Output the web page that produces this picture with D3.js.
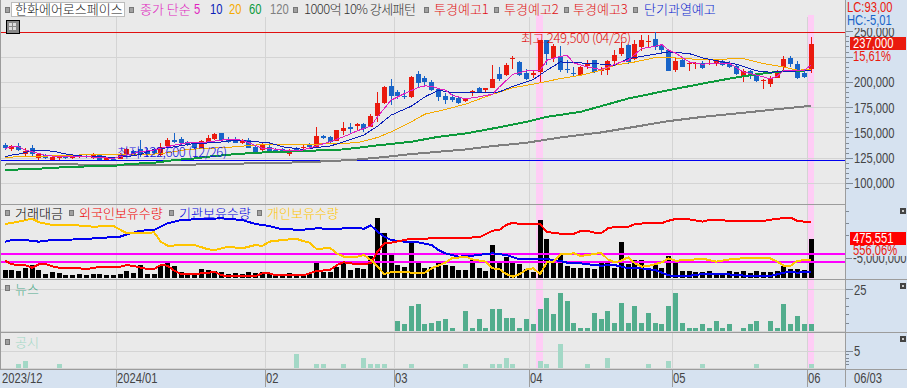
<!DOCTYPE html>
<html>
<head>
<meta charset="utf-8">
<script src="https://cdn.jsdelivr.net/npm/d3@7"></script>
<style>
html,body{margin:0;padding:0;background:#fff;overflow:hidden}
svg{display:block}
text{font-family:"Noto Sans CJK KR","Noto Sans",sans-serif;font-size:13px;font-weight:300}
text.num{font-family:"Liberation Sans",sans-serif;font-size:14px;font-weight:400}
</style>
</head>
<body>
<div id="chart"></div>
<script>
// candles, index 0 = first session on screen, 119 = 06/03
var opens = [137800,133200,136500,128600,134200,124700,127300,123000,125000,126300,125300,125300,126600,124700,127300,123000,124000,124000,127900,131900,
133200,131600,132600,127900,136500,142700,143400,140800,138800,134800,140800,143700,149000,142700,143700,139100,142400,135800,132600,135500,
132900,133200,128600,134200,134200,138100,135500,146700,145400,141800,151300,154900,156600,158200,155200,166100,178900,195700,189800,186200,
184900,207600,203900,199700,193100,186500,185200,183900,180900,189100,193700,192400,194400,207600,206600,223000,219700,208900,206900,210200,
241100,224000,225300,212500,209200,206600,216100,221400,210900,211800,220400,228000,236800,223000,234500,239800,242800,235500,231200,211800,
222000,217800,218100,219100,217400,218100,221000,219100,216100,205900,210900,207600,201300,198300,203900,214500,223400,217400,208900,212800];
var highs = [139800,137200,139100,134500,137200,129300,128600,127600,126600,127600,127300,127600,127600,129300,127900,125300,125300,129900,134200,132600,
142400,134200,134200,139100,144700,149300,145700,141800,139800,142400,147400,149700,149700,145000,145700,143700,144700,137800,139100,139100,
134900,134200,133200,135800,138500,139100,155600,147700,146400,152900,160500,158900,159500,159500,168100,189500,195700,203300,192400,191800,
205600,210500,205600,201600,194400,188500,187800,185800,184500,192400,195100,194400,217100,214800,218700,225300,220700,213200,210900,241800,
241800,237800,235200,221400,214800,215800,222000,222000,214800,221400,231200,239500,237800,241100,246100,246100,249500,237800,231900,224000,
224000,219100,219700,220700,222000,223000,221400,220700,217400,212500,212200,209200,203300,206200,212200,225300,225300,220400,210900,244400];
var lows = [132600,131200,131900,126000,126000,123000,123300,122800,122800,123700,123300,124700,124700,123300,122800,122800,122600,123300,126000,126600,
126000,126000,127900,126600,135200,139100,137800,136500,132600,134200,139100,142400,141100,139100,139100,138500,134200,128600,130600,129900,
129900,129300,126600,130600,131900,134500,134200,143700,139800,141100,147400,149000,152900,150600,154900,160500,178600,177000,183500,182900,
184500,195100,196700,191100,181200,178000,180200,178600,180200,185800,188500,188500,194400,200700,206200,213200,205600,202300,204300,199300,
217100,219700,210200,209200,204900,206200,212800,208900,206600,206600,217400,225300,218100,222000,230600,234500,231200,228000,210500,209900,
214500,210500,212500,212800,216400,215500,215800,213500,206600,199700,203300,200000,192800,194700,203600,210500,215100,202600,203900,208900];
var closes = [134500,136500,132900,131200,128300,128600,124700,125300,125600,125000,126000,127300,125600,127600,123000,124700,123300,128600,133200,128600,
128600,127300,129300,135800,142400,140400,139800,137500,134200,141100,144400,148300,142400,140800,139800,142400,134800,129900,138100,131600,
130600,129900,132600,131600,135800,135500,146400,144400,140800,152300,154300,153600,158200,153300,166100,178900,195100,186500,185800,185500,
204600,199300,199700,191800,184900,181900,181600,179300,183900,190800,189500,193700,202600,202600,216400,224000,206600,203300,209200,241100,
227300,235900,211500,211500,208500,214500,218100,209900,212800,220400,226300,233900,219400,237200,241800,240800,234500,231200,210900,220400,
214800,218700,218700,213500,218400,221400,216400,214800,207600,210500,206900,201000,202300,204300,211200,223000,217800,203600,204900,237000];

// moving averages, read at these candle positions
var ma5At = [0,1,2,3,4,5,6,8,12,14,16,18,20,22,25,27,29,32,33,35,36,38,40,42,44,46,48,50,52,54,55,56,57,59,61,62,63,64,65,66,68,70,72,73,75,77,79,80,82,83,84,86,88,91,92,94,96,97,98,99,101,103,105,107,109,111,113,114,115,117,118,119];
var ma5 = [134200,135800,135800,132600,130900,129300,127300,126000,126000,125300,124300,127600,130900,132600,137500,139800,139800,142400,143400,142400,139800,134200,133500,131900,132600,136800,140800,145700,151600,156200,165400,173700,181900,188500,194400,196000,195700,193400,191800,186800,183200,185200,187800,195100,207600,210900,211500,221400,225300,226000,218700,214800,212200,219700,221400,232900,235200,236800,231200,228600,219700,217400,218700,218100,209900,206600,203000,205600,211500,211500,211500,216400];
var ma10At = [0,1,2,4,7,9,11,14,16,18,20,22,25,28,31,34,37,39,41,44,46,48,50,53,55,57,60,62,64,66,69,72,73,75,78,80,82,85,87,90,92,95,98,101,103,106,108,111,113,115,118,119];
var ma10 = [126000,127600,128600,131900,131600,128600,126800,126000,125300,126000,128300,133200,135800,139100,139800,142400,140800,139800,135800,133200,135200,136500,140800,147400,156200,167100,176000,185200,191800,189500,189500,189500,190100,195700,202300,211500,219700,218700,218100,216400,223000,226300,229600,228000,223700,219700,217400,210900,209500,210500,210900,210900];
var ma20At = [0,2,4,6,9,14,18,22,24,27,30,34,38,44,46,49,52,55,57,60,62,65,68,72,75,79,82,85,88,90,93,96,98,103,109,112,115,117,119];
var ma20 = [125300,126000,126000,126600,127300,128300,128600,128600,129900,133200,134200,135800,138100,138100,138500,139100,139800,145000,150600,160500,168100,172700,178000,187800,194100,199000,203300,206600,211500,216400,219700,224000,224000,222000,223000,218100,214800,211500,212500];
var ma60At = [0,6,10,16,18,22,25,28,30,34,38,44,50,55,60,64,68,72,77,80,85,88,92,98,103,107,111,115,119];
var ma60 = [112800,114500,116100,116800,118700,120000,122700,124300,126000,128600,130200,131600,133200,137200,140800,145700,149000,153900,160500,165400,170400,176000,183500,191800,198300,203300,207600,210500,211500];
var ma120At = [0,1,10,11,28,29,35,36,44,51,55,60,64,68,72,77,82,88,93,98,103,109,115,119];
var ma120 = [118100,119100,119100,118100,118100,119100,119100,119700,120400,122700,125000,128600,130900,133200,136500,139800,145000,150000,155600,161200,165400,169400,173700,176300];
var maNames = ["5","10","20","60","120"];
var maColors = ["#e01fc0","#0a1fb8","#f5aa00","#0d9a3c","#7f7f7f"];

// trading value per session
var tradeValue = [97600,97600,85400,122000,158500,97600,48800,73200,61000,36600,36600,48800,36600,48800,48800,36600,36600,48800,85400,61000,
158500,48800,48800,158500,182900,146300,73200,61000,48800,109800,97600,85400,73200,48800,61000,48800,73200,61000,73200,61000,
48800,48800,61000,48800,40700,48800,207300,73200,73200,138200,207300,97600,122000,109800,268300,731700,548800,304900,158500,134100,
439000,207300,122000,134100,182900,158500,146300,97600,97600,219500,122000,85400,402400,195100,256100,182900,170700,109800,73200,707300,
475551,182900,304900,146300,122000,122000,122000,109800,182900,182900,122000,439000,170700,219500,219500,109800,170700,122000,268300,182900,
85400,85400,73200,73200,85400,48800,61000,85400,73200,85400,61000,85400,73200,73200,85400,146300,109800,109800,97600,475551];

// holdings in thousand shares
var foreignAt = [0,1,2,3,4,5,6,7,8,10,12,14,16,17,18,19,20,21,22,23,24,25,26,28,29,31,32,33,37,38,39,40,43,44,45,46,48,49,50,52,54,55,56,57,59,60,62,64,68,70,72,73,74,75,76,78,79,80,82,84,85,86,87,88,89,90,92,93,95,97,98,99,101,103,104,105,107,109,112,113,115,116,117,118,119];
var foreignHold = [-5490,-6260,-6400,-6470,-6960,-6260,-6190,-6680,-6960,-6960,-7240,-6820,-6820,-6750,-6400,-6610,-6960,-7240,-7240,-6400,-6540,-7590,-8290,-8290,-8150,-7870,-8570,-8710,-8710,-8150,-8150,-8570,-8570,-8570,-8150,-7660,-7450,-6400,-5840,-6260,-6050,-3600,-1850,-1710,-1150,-870,-870,-730,-660,-590,810,950,2000,2490,2210,2210,2210,530,180,180,740,810,390,250,1300,1580,1580,2210,2420,2420,2910,3260,3190,2700,3050,3120,2840,2840,2840,3120,3470,3540,2840,2700,2630];
var instAt = [0,1,3,5,7,11,14,17,18,20,22,24,26,29,32,35,37,39,41,44,46,49,51,53,54,55,56,57,59,61,63,64,65,67,69,72,74,76,78,80,82,83,85,87,88,90,92,94,96,98,99,101,102,104,106,108,110,113,115,116,117,119];
var instHold = [-1500,-1150,-1150,-1500,-1150,-1010,-730,-450,40,810,950,2350,3050,3260,3400,3050,2210,1790,1090,1020,1300,1160,1440,1230,1930,600,-450,-1150,-1500,-1640,-2200,-3250,-3950,-4650,-4440,-3950,-4300,-5210,-5210,-5140,-5560,-5910,-6050,-6400,-6540,-6400,-7100,-7100,-7450,-8570,-8780,-8710,-8430,-8290,-8290,-8500,-8710,-8710,-8010,-7800,-8010,-7800];
var retailAt = [0,2,4,5,7,10,13,16,18,20,22,23,24,28,30,31,33,35,37,38,39,41,43,44,45,46,48,49,50,52,53,54,55,56,57,59,60,62,63,65,66,68,69,71,72,73,74,75,76,77,78,79,80,81,82,84,85,87,88,89,90,91,92,93,94,95,97,98,99,101,103,105,107,110,113,114,115,116,117,119];
var retailHold = [2210,2700,3330,2560,2000,2000,1650,1790,250,250,460,-1500,-2340,-2200,-3110,-3250,-2550,-2900,-2200,-2410,-1500,-1150,-870,-1360,-1710,-3040,-2830,-3950,-4650,-4650,-4300,-5350,-6750,-8290,-7940,-7800,-8010,-8010,-7100,-5910,-5000,-4650,-5210,-5700,-7100,-7240,-8290,-8850,-8290,-7310,-7100,-8290,-5840,-5700,-4160,-3950,-4510,-4090,-3810,-5210,-5840,-5490,-4790,-6050,-6750,-6610,-5840,-5000,-5490,-5350,-5070,-5700,-5210,-4860,-5000,-5700,-6540,-6540,-5490,-5350];
var holdLevels = [-3810,-5490];

// news count, disclosure count
var newsCount = [0,0,0,0,0,0,0,0,0,0,0,0,0,0,0,0,0,0,0,0,
0,0,0,0,0,0,0,0,0,0,0,0,0,0,0,0,0,0,0,0,
0,0,0,0,0,0,0,0,0,0,0,0,0,0,0,0,0,0,6,4,
15,16,4,5,6,7,2,0,12,2,7,2,13,13,8,8,2,7,4,13,
20,10,23,18,5,2,2,11,7,12,5,17,5,15,5,11,5,4,15,23,
5,2,2,4,2,6,2,4,0,2,4,6,0,6,2,16,4,9,4,4];
var noticeCount = [0,0,1,2,0,0,0,0,1,0,0,0,0,0,0,0,0,0,0,0,
0,0,0,0,0,0,0,0,0,0,0,0,0,0,0,0,0,0,0,0,
0,0,0,4,0,0,1,1,0,0,1,0,0,3,1,1,1,0,0,0,
1,0,0,0,0,0,0,0,1,0,0,0,1,1,3,1,0,0,0,2,
1,0,7,0,0,0,1,0,0,3,0,0,0,0,0,1,0,0,2,0,
0,0,0,1,0,0,0,0,0,0,0,1,0,0,0,0,0,0,0,1];

var monthAt = [17,39,58,78,99,119];
var monthLabels = ["2024/01","02","03","04","05","06"];
var highlightAt = [79,119];
var priceTicks = [100000,125000,150000,175000,200000,225000,250000];
var priceMinor = d3.range(95000,255000,5000);

var WIDTH = 907, HEIGHT = 389, plotRight = 845;
var BG = "#eaeaea", SIDE = "#d6e2f0", BORDER = "#9c9c9c", GRID = "#d4d4d4";

var svg = d3.select("#chart").append("svg").attr("width",WIDTH).attr("height",HEIGHT);

var x = d3.scaleLinear().domain([0,closes.length-1]).range([4.5,810.5]);
var yPrice = d3.scaleLinear().domain([100000,250000]).range([183,31.3]);
var yTrade = d3.scaleLinear().domain([0,475551]).range([278,239]);
var yHold = d3.scaleLinear().domain([7250,-9130]).range([200,278]);
var yNews = d3.scaleLinear().domain([0,25]).range([331,289.3]);
var yNotice = d3.scaleLinear().domain([0,5]).range([367.7,351]);

function px(v){ return Math.round(v) }

function rect(parent,x0,y0,w,h,color){
	return parent.append("rect").attr("x",x0).attr("y",y0).attr("width",w).attr("height",h)
		.attr("fill",color).attr("shape-rendering","crispEdges");
}
function hline(parent,x0,x1,y,color,w){ rect(parent,x0,px(y),x1-x0,w||1,color) }
function label(parent,tx,ty,txt,color,cls){
	return parent.append("text").attr("x",tx).attr("y",ty).attr("class",cls||null).attr("fill",color).text(txt);
}

// background
rect(svg,0,0,WIDTH,HEIGHT,BG);
rect(svg,plotRight,0,WIDTH-plotRight,370,SIDE);
rect(svg,0,369,WIDTH,19,SIDE);
rect(svg,0,388,WIDTH,1,"#fff");

// highlighted sessions
var bands = svg.append("g");
highlightAt.forEach(function(i,k){
	var w = k==0 ? 7 : 6;
	rect(bands,px(x(i)-w/2),15,w,353,"#ffcdf6");
});

// grid
var grid = svg.append("g");
monthAt.forEach(function(i){ rect(grid,px(x(i)-3.4),17,1,351,GRID) });
priceTicks.forEach(function(v){ if(v<250000) hline(grid,1,plotRight,yPrice(v),GRID) });
hline(grid,1,plotRight,yNews(25),GRID);
hline(grid,1,plotRight,yNews(0),GRID);
hline(grid,1,plotRight,yNotice(5),GRID);
hline(grid,1,plotRight,yNotice(0),GRID);

// max / min lines
hline(svg,0,plotRight,yPrice(d3.max(highs)),"#e01010");
hline(svg,0,plotRight,yPrice(d3.min(lows)),"#0000f0");

// candles
var candle = svg.append("g").selectAll("g").data(closes).enter().append("g")
	.attr("fill",function(d,i){ return d>=opens[i] ? "#ea1a0e" : "#1864c8" });
candle.append("rect")
	.attr("shape-rendering","crispEdges")
	.attr("x",function(d,i){ return px(x(i)) })
	.attr("width",1)
	.attr("y",function(d,i){ return px(yPrice(highs[i])) })
	.attr("height",function(d,i){ return px(yPrice(lows[i]))-px(yPrice(highs[i])) });
candle.append("rect")
	.attr("shape-rendering","crispEdges")
	.attr("x",function(d,i){ return px(x(i))-2 })
	.attr("width",5)
	.attr("y",function(d,i){ return px(yPrice(Math.max(d,opens[i]))) })
	.attr("height",function(d,i){ return Math.max(1,px(yPrice(Math.min(d,opens[i])))-px(yPrice(Math.max(d,opens[i])))) });

function drawLine(parent,at,vals,y,color,w){
	var line = d3.line().x(function(d){ return x(d)+.5 }).y(function(d,k){ return y(vals[k]) });
	parent.append("path").attr("d",line(at)).attr("fill","none")
		.attr("stroke",color).attr("stroke-width",w).attr("shape-rendering","crispEdges");
}

// moving averages
var maG = svg.append("g");
drawLine(maG,ma120At,ma120,yPrice,maColors[4],2);
drawLine(maG,ma60At,ma60,yPrice,maColors[3],2);
drawLine(maG,ma20At,ma20,yPrice,maColors[2],1);
drawLine(maG,ma10At,ma10,yPrice,maColors[1],1);
drawLine(maG,ma5At,ma5,yPrice,maColors[0],1);

label(svg,521,43,"최고 249,500 (04/26)","#e01010").attr("textLength",110);
label(svg,117,157,"최저 122,600 (12/26)","#1010e0").attr("textLength",110);

// trading value bars, holdings
svg.append("g").selectAll("rect").data(tradeValue).enter().append("rect")
	.attr("shape-rendering","crispEdges").attr("fill","#000")
	.attr("x",function(d,i){ return px(x(i))-2 }).attr("width",5)
	.attr("y",function(d){ return px(yTrade(d)) })
	.attr("height",function(d){ return 278-px(yTrade(d)) });

var holdG = svg.append("g");
holdLevels.forEach(function(v){ hline(holdG,1,plotRight,yHold(v),"#ff00ff",2) });
drawLine(holdG,instAt,instHold,yHold,"#0000f0",2);
drawLine(holdG,foreignAt,foreignHold,yHold,"#ff0000",2);
drawLine(holdG,retailAt,retailHold,yHold,"#ffc400",2);

// news / disclosure bars
function countBars(vals,y,base,color){
	svg.append("g").selectAll("rect").data(vals).enter().append("rect")
		.attr("shape-rendering","crispEdges").attr("fill",color)
		.attr("x",function(d,i){ return px(x(i))-2 }).attr("width",5)
		.attr("y",function(d){ return px(y(d)) })
		.attr("height",function(d){ return d>0 ? base-px(y(d)) : 0 });
}
countBars(newsCount,yNews,331,"#52ad8d");
countBars(noticeCount,yNotice,368,"#a3d8c6");

// panel borders
[204,279,332,369].forEach(function(y){ hline(svg,0,plotRight,y,BORDER) });
[279,332,369].forEach(function(y){ hline(svg,plotRight,WIDTH,y,BORDER) });
rect(svg,0,0,1,369,BORDER);
rect(svg,plotRight,0,1,370,BORDER);

// right axes
function axisStyle(g){
	g.select(".domain").remove();
	g.selectAll("line").attr("stroke","#7f8a96").attr("shape-rendering","crispEdges");
	g.selectAll("text").attr("class","num").attr("fill","#444").attr("dy","0.35em");
}
var numFmt = d3.format(",");
var axisG = svg.append("g");
function rightAxis(y,ticks,size,fmt){
	axisG.append("g").attr("transform","translate("+(plotRight+1)+",0)")
		.attr("font-family",null).attr("font-size",null)
		.call(d3.axisRight(y).tickValues(ticks).tickSize(size).tickPadding(1).tickFormat(fmt))
		.call(axisStyle);
}
rightAxis(yPrice,priceMinor.filter(function(v){ return priceTicks.indexOf(v)<0 && v<250000 }),3,function(){ return "" });
rightAxis(yPrice,priceTicks,7,function(v){ return v==225000 ? "" : numFmt(v) });
rightAxis(yHold,[-2500,0,2500,5000],3,function(){ return "" });
rect(axisG,plotRight+1,px(yHold(-5000)),6,1,"#7f8a96");
label(axisG,853,263,"-5,000,000","#444","num");
rightAxis(yNews,[25],7,d3.format("d"));
rightAxis(yNotice,[5],7,d3.format("d"));
rightAxis(yNews,[5,10,15,20],3,function(){ return "" });
rightAxis(yNotice,[1,2,3,4],3,function(){ return "" });

// value tags on right
rect(svg,846,0,61,28,SIDE);
rect(svg,850,37,56,13,"#ea1a0e");
label(svg,853,48,"237,000","#fff","num");
label(svg,853,61,"15,61%","#ea1a0e","num");
rect(svg,846,245,61,11,SIDE);
rect(svg,850,232,56,13,"#ff0000");
label(svg,853,243,"475,551","#fff","num");
label(svg,853,255,"556,06%","#ea1a0e","num");
label(svg,847,12,"LC:93,00","#ea1a0e","num");
label(svg,847,25,"HC:-5,01","#1864c8","num");

[211,286,339].forEach(function(y){
	rect(svg,900,y-3,6,6,"#444");
	rect(svg,902,y-1,2,2,"#ccc");
});

// time strip
label(svg,2,383,"2023/12","#444","num");
monthAt.forEach(function(i,k){
	var gx = px(x(i)-3.4);
	rect(svg,gx,370,1,17,BORDER);
	label(svg,gx+1,383,monthLabels[k],"#444","num");
});
rect(svg,plotRight,370,1,17,BORDER);
label(svg,854,383,"06/03","#444","num");

// legends
function marker(mx,my){
	rect(svg,mx,my-2,4,5,"#a0a0a0").attr("stroke","#777").attr("stroke-width",1);
}
rect(svg,11,2,113,14,"#fff").attr("stroke","#bcbcbc");
marker(5,9); marker(129,9); marker(293,9); marker(424,9); marker(494,9); marker(564,9); marker(633,9);
label(svg,15,14,"한화에어로스페이스","#222");
label(svg,140,14,"종가 단순","#e01fc0");
label(svg,194,14,"5",maColors[0],"num");
maNames.slice(1).forEach(function(n,k){
	label(svg,[210,229,249,270][k],14,n,maColors[k+1],"num");
});
label(svg,304,14,"1000억 10% 강세패턴","#333").attr("textLength",112);
label(svg,434,14,"투경예고1","#e01010");
label(svg,504,14,"투경예고2","#e01010");
label(svg,573,14,"투경예고3","#e01010");
label(svg,644,14,"단기과열예고","#0a1fd0");

// table icon
rect(svg,6,20,13,13,"#888").attr("stroke","#000");
rect(svg,9,23,7,7,"#ddd");
rect(svg,12,23,1,7,"#888");
rect(svg,9,26,7,1,"#888");

marker(5,212); marker(69,212); marker(169,212); marker(257,212);
label(svg,15,218,"거래대금","#000");
label(svg,79,218,"외국인보유수량","#f00000");
label(svg,179,218,"기관보유수량","#0000e0");
label(svg,267,218,"개인보유수량","#ffc400");
marker(5,287);
label(svg,15,294,"뉴스","#52ad8d");
marker(5,341);
label(svg,15,347,"공시","#a3d8c6");

// the chart's digits are tall and narrow
svg.selectAll("text.num").each(function(){
	var len = this.getComputedTextLength();
	if(len>0) d3.select(this).attr("textLength",len*.8).attr("lengthAdjust","spacingAndGlyphs");
});
</script>
</body>
</html>
